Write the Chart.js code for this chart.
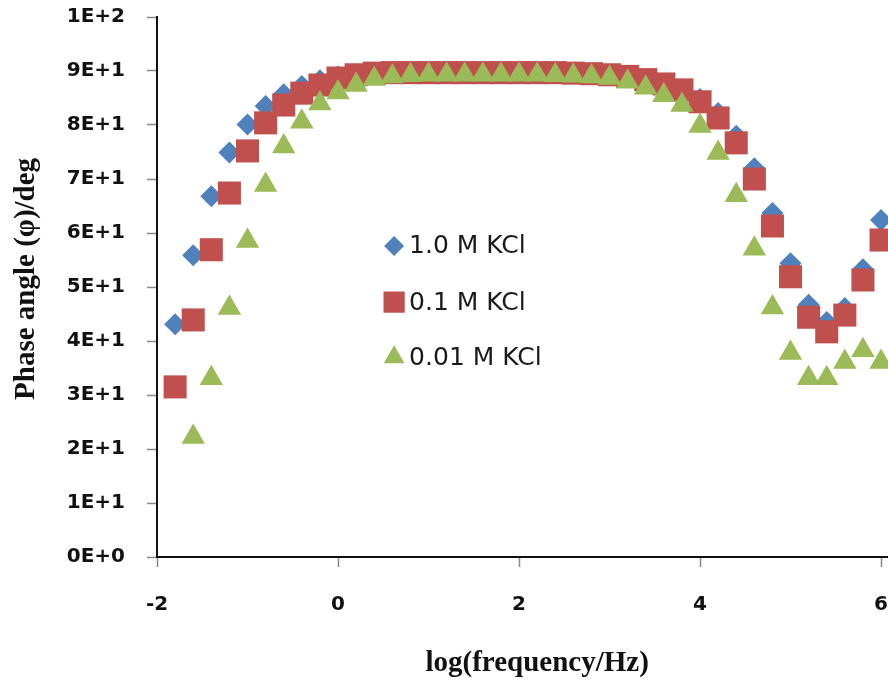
<!DOCTYPE html>
<html>
<head>
<meta charset="utf-8">
<title>Phase angle vs log(frequency)</title>
<script src="https://cdn.jsdelivr.net/npm/chart.js@4.4.1/dist/chart.umd.min.js"></script>
<style>
  html, body { margin: 0; padding: 0; background: #fff; overflow: hidden; }
  #wrap { position: relative; width: 1095px; height: 683px; }
</style>
</head>
<body>
<div id="wrap"><canvas id="phaseChart"></canvas></div>
<script>
// log(f/Hz) sample points, 0.2 decade apart
const logFreq = [-1.8, -1.6, -1.4, -1.2, -1.0, -0.8, -0.6, -0.4, -0.2, 0.0,
                 0.2, 0.4, 0.6, 0.8, 1.0, 1.2, 1.4, 1.6, 1.8, 2.0,
                 2.2, 2.4, 2.6, 2.8, 3.0, 3.2, 3.4, 3.6, 3.8, 4.0,
                 4.2, 4.4, 4.6, 4.8, 5.0, 5.2, 5.4, 5.6, 5.8, 6.0];

// phase angle in degrees
const phase1M = [43.1, 55.9, 66.8, 74.9, 80.1, 83.5, 85.7, 87.2, 88.3, 89.0,
                 89.4, 89.7, 89.8, 89.9, 89.9, 89.9, 89.9, 89.9, 89.9, 89.9,
                 89.9, 89.8, 89.7, 89.5, 89.3, 89.0, 88.5, 87.6, 86.6, 84.8,
                 82.2, 78.0, 72.0, 63.7, 54.4, 46.7, 43.5, 46.1, 53.3, 62.4];

const phase01M = [31.5, 43.9, 56.9, 67.4, 75.2, 80.4, 83.7, 85.9, 87.4, 88.7,
                  89.3, 89.6, 89.7, 89.7, 89.7, 89.7, 89.7, 89.7, 89.7, 89.7,
                  89.7, 89.7, 89.6, 89.5, 89.3, 89.0, 88.4, 87.6, 86.5, 84.3,
                  81.3, 76.7, 70.0, 61.3, 51.9, 44.4, 41.7, 44.8, 51.3, 58.7];

const phase001M = [null, 22.2, 33.1, 46.1, 58.5, 68.9, 76.0, 80.6, 84.0, 86.0,
                   87.4, 88.5, 89.0, 89.2, 89.3, 89.3, 89.3, 89.3, 89.3, 89.3,
                   89.3, 89.2, 89.1, 89.0, 88.7, 88.0, 86.9, 85.5, 83.7, 79.8,
                   74.8, 67.0, 57.1, 46.2, 37.8, 33.1, 33.1, 36.1, 38.3, 36.1];

const seriesNames = ['1.0 M KCl', '0.1 M KCl', '0.01 M KCl'];
const yTicks = [0, 10, 20, 30, 40, 50, 60, 70, 80, 90, 100];
const yTitle = 'Phase angle (φ)/deg';
const xTitle = 'log(frequency/Hz)';

function toPoints(ys) {
    return logFreq.map((x, i) => ({ x: x, y: ys[i] })).filter(p => p.y !== null);
}

const BLUE = '#4F81BD';
const RED = '#C0504D';
const GREEN = '#9BBB59';
const TICK_FONT = { family: '"DejaVu Sans", sans-serif', size: 20, weight: 'bold' };
const TITLE_FONT = '"Liberation Serif", "Times New Roman", serif';

// in-plot legend plus both axis titles
const extras = {
    id: 'extras',
    afterDatasetsDraw(chart) {
        const ctx = chart.ctx;
        const xs = chart.scales.x, ys = chart.scales.y;
        const mx = xs.getPixelForValue(0.62);
        const rows = [
            { name: seriesNames[0], style: 'rectRot', r: 10, color: BLUE, v: 57.6 },
            { name: seriesNames[1], style: 'rect', r: 15, color: RED, v: 47.2 },
            { name: seriesNames[2], style: 'triangle', r: 12, color: GREEN, v: 37.0 }
        ];
        ctx.save();
        ctx.font = '25px "DejaVu Sans", sans-serif';
        ctx.textBaseline = 'middle';
        ctx.textAlign = 'left';
        rows.forEach(row => {
            const py = ys.getPixelForValue(row.v);
            ctx.fillStyle = row.color;
            Chart.helpers.drawPoint(ctx, { pointStyle: row.style, radius: row.r, borderWidth: 0 }, mx, py);
            ctx.fillStyle = '#1a1a1a';
            ctx.fillText(row.name, mx + 15, py + 1);
        });
        ctx.restore();

        ctx.save();
        ctx.font = 'bold 29px ' + TITLE_FONT;
        ctx.fillStyle = '#111';
        ctx.textAlign = 'center';
        ctx.textBaseline = 'middle';
        ctx.fillText(xTitle, xs.getPixelForValue(2.2), 664);
        ctx.translate(27, ys.getPixelForValue(51.5));
        ctx.rotate(-Math.PI / 2);
        ctx.fillText(yTitle, 0, 0);
        ctx.restore();
    }
};

const ctx = document.getElementById('phaseChart').getContext('2d');

const phaseChart = new Chart(ctx, {
    type: 'scatter',
    data: {
        datasets: [{
            label: seriesNames[2],
            data: toPoints(phase001M),
            pointStyle: 'triangle',
            pointRadius: 13.5,
            backgroundColor: GREEN,
            borderColor: GREEN,
            borderWidth: 0
        }, {
            label: seriesNames[1],
            data: toPoints(phase01M),
            pointStyle: 'rect',
            pointRadius: 16.3,
            backgroundColor: RED,
            borderColor: RED,
            borderWidth: 0
        }, {
            label: seriesNames[0],
            data: toPoints(phase1M),
            pointStyle: 'rectRot',
            pointRadius: 11,
            backgroundColor: BLUE,
            borderColor: BLUE,
            borderWidth: 0
        }]
    },
    options: {
        responsive: true,
        maintainAspectRatio: false,
        animation: false,
        layout: {
            padding: { left: 0, right: 0, top: 17, bottom: 0 }
        },
        scales: {
            x: {
                type: 'linear',
                min: -2,
                max: 8,
                afterFit: scale => {
                    scale.height = 126;
                    scale.paddingLeft = 0;
                },
                ticks: {
                    stepSize: 2,
                    padding: 26,
                    color: '#111',
                    font: TICK_FONT
                },
                grid: {
                    display: true,
                    drawOnChartArea: false,
                    drawTicks: true,
                    tickLength: 10,
                    tickColor: '#888',
                    tickWidth: 1.5
                },
                border: { color: '#111', width: 2 }
            },
            y: {
                min: 0,
                max: 100,
                afterFit: scale => {
                    scale.width = 157;
                    scale.paddingTop = 0;
                    scale.paddingBottom = 0;
                },
                afterBuildTicks: scale => { scale.ticks = yTicks.map(v => ({ value: v })); },
                ticks: {
                    padding: 22,
                    color: '#111',
                    font: TICK_FONT,
                    callback: v => v === 0 ? '0E+0' : (v === 100 ? '1E+2' : (v / 10) + 'E+1')
                },
                grid: {
                    display: true,
                    drawOnChartArea: false,
                    drawTicks: true,
                    tickLength: 10,
                    tickColor: '#888',
                    tickWidth: 1.5
                },
                border: { color: '#111', width: 2 }
            }
        },
        plugins: {
            legend: { display: false },
            tooltip: { enabled: false }
        }
    },
    plugins: [extras]
});
</script>
</body>
</html>
